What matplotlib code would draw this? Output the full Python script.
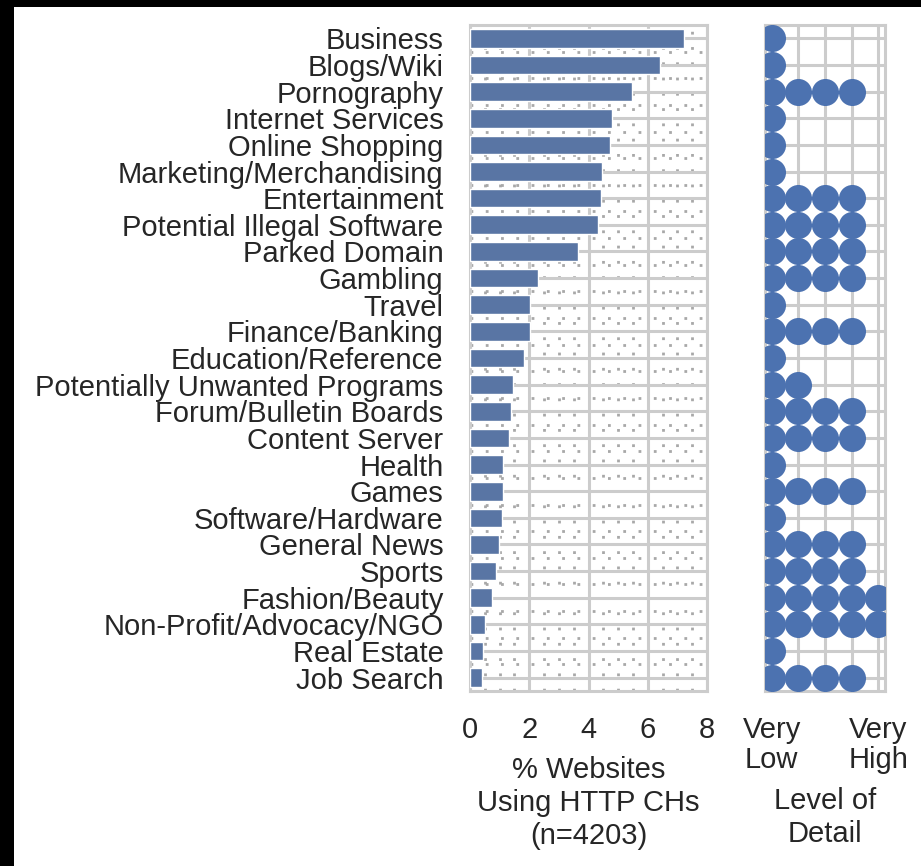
import matplotlib.pyplot as plt
from matplotlib.patches import Rectangle
from matplotlib.ticker import MultipleLocator
import numpy as np

categories = ["Business", "Blogs/Wiki", "Pornography", "Internet Services",
              "Online Shopping", "Marketing/Merchandising", "Entertainment",
              "Potential Illegal Software", "Parked Domain", "Gambling", "Travel",
              "Finance/Banking", "Education/Reference", "Potentially Unwanted Programs",
              "Forum/Bulletin Boards", "Content Server", "Health", "Games",
              "Software/Hardware", "General News", "Sports", "Fashion/Beauty",
              "Non-Profit/Advocacy/NGO", "Real Estate", "Job Search"]
pct_websites = [7.24, 6.43, 5.48, 4.79, 4.72, 4.44, 4.41, 4.31, 3.66, 2.29, 2.04,
                2.04, 1.81, 1.44, 1.39, 1.30, 1.13, 1.13, 1.09, 0.99, 0.87, 0.74,
                0.50, 0.44, 0.42]
# number of dots = level of detail (1 = very low ... 5 = very high)
detail_level = [1, 1, 4, 1, 1, 1, 4, 4, 4, 4, 1, 4, 1, 2, 4, 4, 1, 4, 1, 4, 4, 5, 5, 1, 4]
detail_ticks = ["Very\nLow", "", "", "", "Very\nHigh"]

plt.rcParams['font.family'] = ['Liberation Sans', 'DejaVu Sans']
plt.rcParams['font.size'] = 21
text_color = '#262626'
grid_color = '#cccccc'
bar_color = '#5975a4'
dot_color = '#4c72b0'

W, H = 921, 866
fig = plt.figure(figsize=(W / 100, H / 100), dpi=100)
fig.patch.set_facecolor('black')
fig.add_artist(Rectangle((14 / W, 0), 1, 1 - 7 / H, transform=fig.transFigure,
                         facecolor='white', edgecolor='none', zorder=-10))

n = len(categories)
y = np.arange(n)
bottom = 1 - 691 / H
height = 666 / H

ax1 = fig.add_axes([470 / W, bottom, 237 / W, height])
ax2 = fig.add_axes([765 / W, bottom, 120 / W, height])

# bars
ax1.barh(y, pct_websites, height=0.7, color=bar_color, edgecolor='white', lw=1, zorder=3)
ax1.set_xlim(0, 8)
ax1.set_ylim(n - 0.5, -0.5)
ax1.set_xticks([0, 2, 4, 6, 8])
ax1.xaxis.set_minor_locator(MultipleLocator(0.5))
ax1.set_yticks(y, categories)
ax1.set_yticks(np.arange(0.5, n - 1, 1), minor=True)
ax1.grid(which='major', color=grid_color, lw=2.2)
ax1.grid(which='minor', color='#a8a8a8', lw=2, linestyle=(0, (1, 4.5)))
ax1.set_xlabel('% Websites\nUsing HTTP CHs\n(n=4203)', labelpad=9,
               linespacing=1.22, color=text_color)

# dots
for i, lvl in enumerate(detail_level):
    xs = np.arange(lvl)
    ax2.scatter(xs, np.full(lvl, i), s=380, color=dot_color, lw=0, zorder=3)
ax2.set_xlim(-0.25, 4.25)
ax2.set_ylim(n - 0.5, -0.5)
ax2.set_xticks(np.arange(5), detail_ticks)
ax2.set_yticks(y, [''] * n)
ax2.grid(which='major', color=grid_color, lw=2.2)
ax2.set_xlabel('Level of\nDetail', labelpad=9, linespacing=1.22, color=text_color)
for lab in ax2.get_xticklabels():
    lab.set_linespacing(1.1)

for ax in (ax1, ax2):
    ax.set_axisbelow(True)
    ax.tick_params(which='both', length=0, labelsize=21, colors=text_color)
    ax.tick_params(axis='x', which='both', pad=18)
    ax.tick_params(axis='y', which='both', pad=19)
    for sp in ax.spines.values():
        sp.set_color(grid_color)
        sp.set_linewidth(2.2)

fig.savefig('out.png', dpi=100, facecolor=fig.get_facecolor())
